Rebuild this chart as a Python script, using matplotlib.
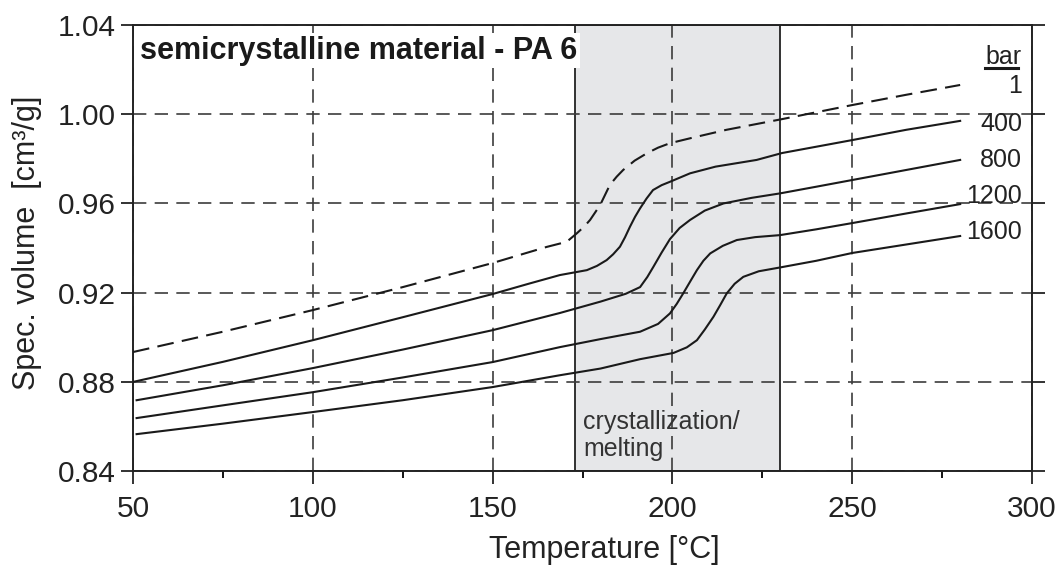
import matplotlib
matplotlib.use("Agg")
import matplotlib.pyplot as plt

plt.rcParams['font.family'] = ['Liberation Sans', 'DejaVu Sans']

# pvT curves of PA 6
t_1 = [50, 75, 100, 125, 150, 165, 170.6, 173.4, 175.5, 177.1, 179.9, 182.6, 184.5, 186.3, 189.5, 192.9,
       196, 199.3, 204.9, 215, 230.5, 250, 265, 280]
v_1 = [0.8934, 0.9025, 0.9122, 0.9225, 0.9333, 0.9405, 0.9428, 0.9466, 0.9497, 0.9526, 0.9593, 0.9683,
       0.9720, 0.9750, 0.9792, 0.9825, 0.9850, 0.9870, 0.9892, 0.9930, 0.9978, 1.0041, 1.0087, 1.0131]

t_400 = [50, 75, 100, 125, 150, 160, 168.7, 176.2, 179, 181.7, 183.5, 185.4, 186.8, 188.2, 189.6, 191,
         192.8, 194.6, 197, 199.3, 204.9, 212, 223.4, 230.5, 250, 265, 280]
v_400 = [0.8800, 0.8890, 0.8987, 0.9090, 0.9194, 0.9240, 0.9279, 0.9301, 0.9320, 0.9346, 0.9372, 0.9406,
         0.9448, 0.9496, 0.9540, 0.9578, 0.9622, 0.9660, 0.9682, 0.9697, 0.9735, 0.9765, 0.9795, 0.9826,
         0.9884, 0.9930, 0.9970]

t_800 = [51, 75, 100, 125, 150, 168.7, 180, 187, 189, 191, 193, 194.7, 197, 199.3, 202, 204.9, 209,
         214.2, 222, 229.9, 240, 250, 265, 280]
v_800 = [0.8718, 0.8785, 0.8862, 0.8945, 0.9032, 0.9109, 0.9160, 0.9195, 0.9210, 0.9225, 0.9270, 0.9316,
         0.9380, 0.9440, 0.9490, 0.9526, 0.9568, 0.9600, 0.9625, 0.9645, 0.9675, 0.9705, 0.9750, 0.9795]

t_1200 = [51, 75, 100, 125, 150, 168.7, 180, 191, 196, 199.3, 201.2, 203, 205, 206.8, 208.6, 210.5, 214,
          217.9, 223, 229.9, 240, 250, 265, 280]
v_1200 = [0.8638, 0.8695, 0.8754, 0.8820, 0.8889, 0.8956, 0.8992, 0.9025, 0.9060, 0.9107, 0.9150, 0.9197,
          0.9252, 0.9301, 0.9343, 0.9376, 0.9410, 0.9436, 0.9449, 0.9458, 0.9484, 0.9512, 0.9555, 0.9597]

t_1600 = [51, 75, 100, 125, 150, 168.7, 180, 191, 200.3, 204, 206.8, 209, 211.4, 213.3, 215.1, 217.3,
          219.7, 224, 229.9, 240, 250, 265, 280]
v_1600 = [0.8566, 0.8613, 0.8665, 0.8718, 0.8777, 0.8830, 0.8860, 0.8902, 0.8930, 0.8955, 0.8987, 0.9035,
          0.9092, 0.9145, 0.9197, 0.9240, 0.9271, 0.9296, 0.9313, 0.9343, 0.9378, 0.9416, 0.9454]

pressures = ["1", "400", "800", "1200", "1600"]
label_y = [1.0126, 0.9956, 0.9795, 0.9633, 0.9472]
melt_range = (173, 230)

fig = plt.figure(figsize=(10.64, 5.67), dpi=100)
ax = fig.add_axes([0.125, 0.169, 0.845, 0.787])

ax.axvspan(melt_range[0], melt_range[1], facecolor="#e6e7e9", edgecolor="#222222", lw=1.3, zorder=0.3)
ax.set_axisbelow(True)
ax.grid(True, which="major", color="#3c3c3c", lw=1.2, linestyle=(0, (8, 5)))

ax.plot(t_1, v_1, color="#1a1a1a", lw=1.5, linestyle=(0, (8, 4)), zorder=3)
for t, v in [(t_400, v_400), (t_800, v_800), (t_1200, v_1200), (t_1600, v_1600)]:
    ax.plot(t, v, color="#1a1a1a", lw=1.5, zorder=3)

ax.set_xlim(50, 300)
ax.set_ylim(0.84, 1.04)
ax.set_xticks(range(50, 301, 50))
ax.set_xticks(range(75, 300, 50), minor=True)
ax.set_yticks([0.84, 0.88, 0.92, 0.96, 1.00, 1.04])
ax.set_yticklabels(["0.84", "0.88", "0.92", "0.96", "1.00", "1.04"])
ax.tick_params(axis="both", which="major", labelsize=21.5, length=9, width=1.3, direction="out",
               right=True, colors="#222222")
ax.tick_params(axis="x", which="major", pad=8)
ax.tick_params(axis="y", which="major", pad=3.5)
ax.tick_params(axis="x", which="minor", length=5, width=1.3, direction="out")
for s in ax.spines.values():
    s.set_linewidth(1.4)
    s.set_color("#222222")

ax.set_xlabel("Temperature [°C]", fontsize=22, color="#222222")
ax.xaxis.set_label_coords(0.524, -0.143)
ax.set_ylabel("Spec. volume  [cm³/g]", fontsize=22, color="#222222")
ax.yaxis.set_label_coords(-0.101, 0.512)

ax.text(52.0, 1.0285, "semicrystalline material - PA 6", fontsize=22, fontweight="bold",
        color="#1a1a1a", va="center", ha="left", zorder=5,
        bbox=dict(facecolor="white", edgecolor="none", pad=2))

ax.text(297.2, 1.0257, "bar", fontsize=18, ha="right", va="center", color="#222222", zorder=5)
ax.plot([287, 296], [1.0207, 1.0207], color="#1a1a1a", lw=2.2, zorder=5)
for lab, y in zip(pressures, label_y):
    ax.text(297.2, y, lab, fontsize=18, ha="right", va="center", color="#222222", zorder=5)

ax.text(175.1, 0.856, "crystallization/\nmelting", fontsize=18, ha="left", va="center",
        color="#333333", linespacing=1.2, zorder=5)

fig.savefig("out.png", dpi=100)
